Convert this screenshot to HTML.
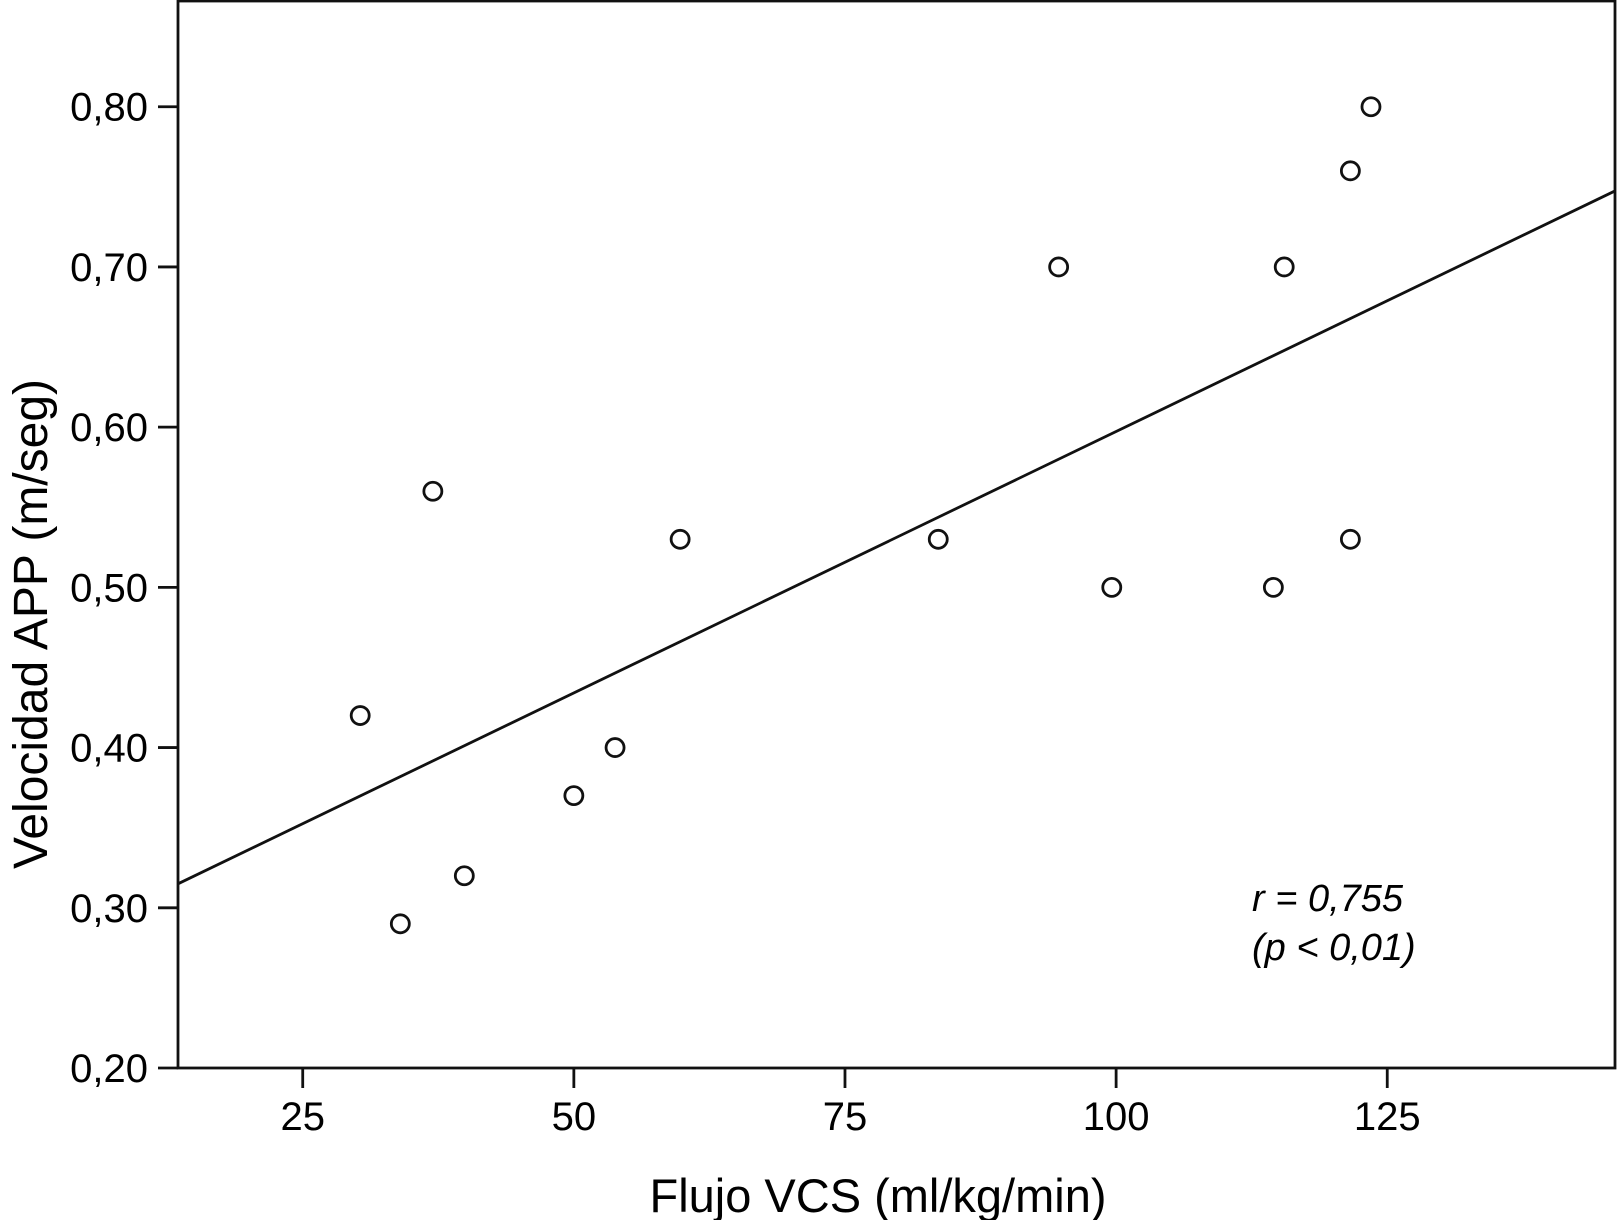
<!DOCTYPE html>
<html><head><meta charset="utf-8"><style>
body{margin:0;background:#fff}
svg{display:block;font-family:"Liberation Sans",Arial,sans-serif}
</style></head><body>
<svg id="chart" width="1617" height="1220" viewBox="0 0 1617 1220">
<g id="axes"></g>
<g id="fit"></g>
<g id="pts"></g>
<text x="1252" y="911" font-size="38" font-style="italic">r = 0,755</text>
<text x="1252" y="960" font-size="38" font-style="italic">(p &lt; 0,01)</text>
<text x="878" y="1212" font-size="47" text-anchor="middle">Flujo VCS (ml/kg/min)</text>
<text transform="translate(47,624) rotate(-90)" font-size="48" text-anchor="middle">Velocidad APP (m/seg)</text>
</svg>
<script>
const xVals=[30.3,34.0,37.0,39.9,50,53.8,59.8,83.6,94.7,99.6,114.5,115.5,121.6,121.6,123.5];
const yVals=[0.42,0.29,0.56,0.32,0.37,0.40,0.53,0.53,0.70,0.50,0.50,0.70,0.76,0.53,0.80];
const xTicks=[25,50,75,100,125];
const yTicks=[0.20,0.30,0.40,0.50,0.60,0.70,0.80];
const fitIntercept=0.2709;
const fitSlope=0.003264;
const xMin=13.5,xMax=146,yMin=0.2,yMax=0.866;
const L=178,R=1615,B=1068,T=1;
const sx=v=>L+(v-xMin)/(xMax-xMin)*(R-L);
const sy=v=>B-(v-yMin)/(yMax-yMin)*(B-T);
const NS="http://www.w3.org/2000/svg";
function mk(tag,attrs,parent){const e=document.createElementNS(NS,tag);for(const k in attrs)e.setAttribute(k,attrs[k]);parent.appendChild(e);return e;}
const ax=document.getElementById('axes');
let r=mk('rect',{x:L,y:T,width:R-L,height:B-T,fill:'none',stroke:'#111','stroke-width':2.8},ax);


yTicks.forEach(t=>{
  let l=mk('line',{x1:L-20,x2:L,y1:sy(t),y2:sy(t),stroke:'#111','stroke-width':2.8},ax);
  
  
  let tx=mk('text',{x:L-30,y:sy(t)+14,'font-size':40,'text-anchor':'end'},ax);
  tx.textContent=t.toFixed(2).replace('.',',');
  
  
});
xTicks.forEach(t=>{
  let l=mk('line',{x1:sx(t),x2:sx(t),y1:B,y2:B+20,stroke:'#111','stroke-width':2.8},ax);
  
  
  let tx=mk('text',{x:sx(t),y:B+62,'font-size':40,'text-anchor':'middle'},ax);
  tx.textContent=t;
  
  
});
const fg=document.getElementById('fit');
let fl=mk('line',{x1:sx(xMin),y1:sy(fitIntercept+fitSlope*xMin),x2:sx(xMax),y2:sy(fitIntercept+fitSlope*xMax),stroke:'#111','stroke-width':2.8},fg);


const pg=document.getElementById('pts');
xVals.forEach((x,i)=>{
  let c=mk('circle',{cx:sx(x),cy:sy(yVals[i]),r:9,fill:'#fff',stroke:'#111','stroke-width':2.8},pg);
  
  
});
</script>
</body></html>
